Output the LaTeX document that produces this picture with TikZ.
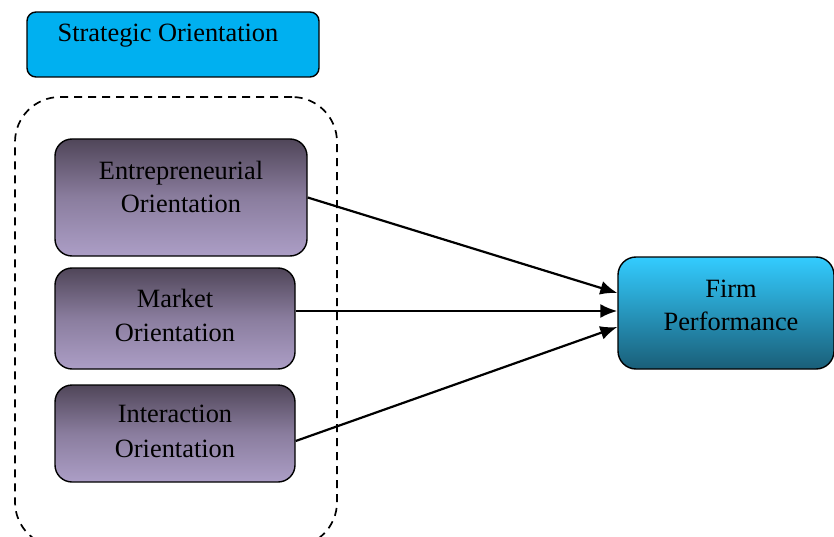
\documentclass[tikz,border=0pt]{standalone}
\usepackage{fontspec}
\setmainfont{Liberation Serif}
\usetikzlibrary{arrows.meta}
\definecolor{soblue}{HTML}{00B0F0}
\definecolor{purtop}{HTML}{504659}
\definecolor{purmid}{HTML}{8A7D9E}
\definecolor{purbot}{HTML}{AC9EC6}
\definecolor{firmtop}{HTML}{33CCFF}
\definecolor{firmbot}{HTML}{1A5E78}
\tikzset{
  pbox/.style={draw=black, line width=1.4pt, rounded corners=17pt, top color=purtop, bottom color=purbot, middle color=purmid, inner sep=0pt},
  txt/.style={font=\fontsize{26.4}{33}\selectfont, anchor=base, inner sep=0pt, align=center},
  conn/.style={line width=2.2pt, -{Latex[length=17pt,width=14pt]}}
}
\begin{document}
\begin{tikzpicture}[x=1pt,y=-1pt]
\useasboundingbox (0,0) rectangle (834,537);
\clip (0,0) rectangle (834,537);
% title box
\node[draw=black, line width=1.4pt, rounded corners=9pt, fill=soblue, minimum width=292pt, minimum height=65pt, inner sep=0pt] (so) at (173,44.5) {};
\node[txt] (sot) at (168,42) {Strategic Orientation};
% dashed container
\node[draw=black, line width=1.7pt, dash pattern=on 8pt off 6pt, rounded corners=45pt, minimum width=322pt, minimum height=450pt, inner sep=0pt] (grp) at (176,322) {};
% boxes
\node[pbox, minimum width=252pt, minimum height=117pt] (eo) at (181,197.5) {};
\node[txt] (eot1) at (181,180) {Entrepreneurial};
\node[txt] (eot2) at (181,213) {Orientation};
\node[pbox, minimum width=240pt, minimum height=101pt] (mo) at (175,318.5) {};
\node[txt] (mot1) at (175,307) {Market};
\node[txt] (mot2) at (175,341) {Orientation};
\node[pbox, minimum width=240pt, minimum height=97pt] (io) at (175,433.5) {};
\node[txt] (iot1) at (175,422) {Interaction};
\node[txt] (iot2) at (175,457) {Orientation};
% firm
\node[draw=black, line width=1.4pt, rounded corners=18pt, top color=firmtop, bottom color=firmbot, minimum width=216pt, minimum height=112pt, inner sep=0pt] (fp) at (726,313) {};
\node[txt] (fpt1) at (731,297) {Firm};
\node[txt] (fpt2) at (731,330) {Performance};
% arrows
\draw[conn] (eo.east) -- ([yshift=20pt]fp.west);
\draw[conn] ([yshift=7.5pt]mo.east) -- ([yshift=2pt]fp.west);
\draw[conn] ([yshift=-7.5pt]io.east) -- ([yshift=-14pt]fp.west);
\end{tikzpicture}
\end{document}
